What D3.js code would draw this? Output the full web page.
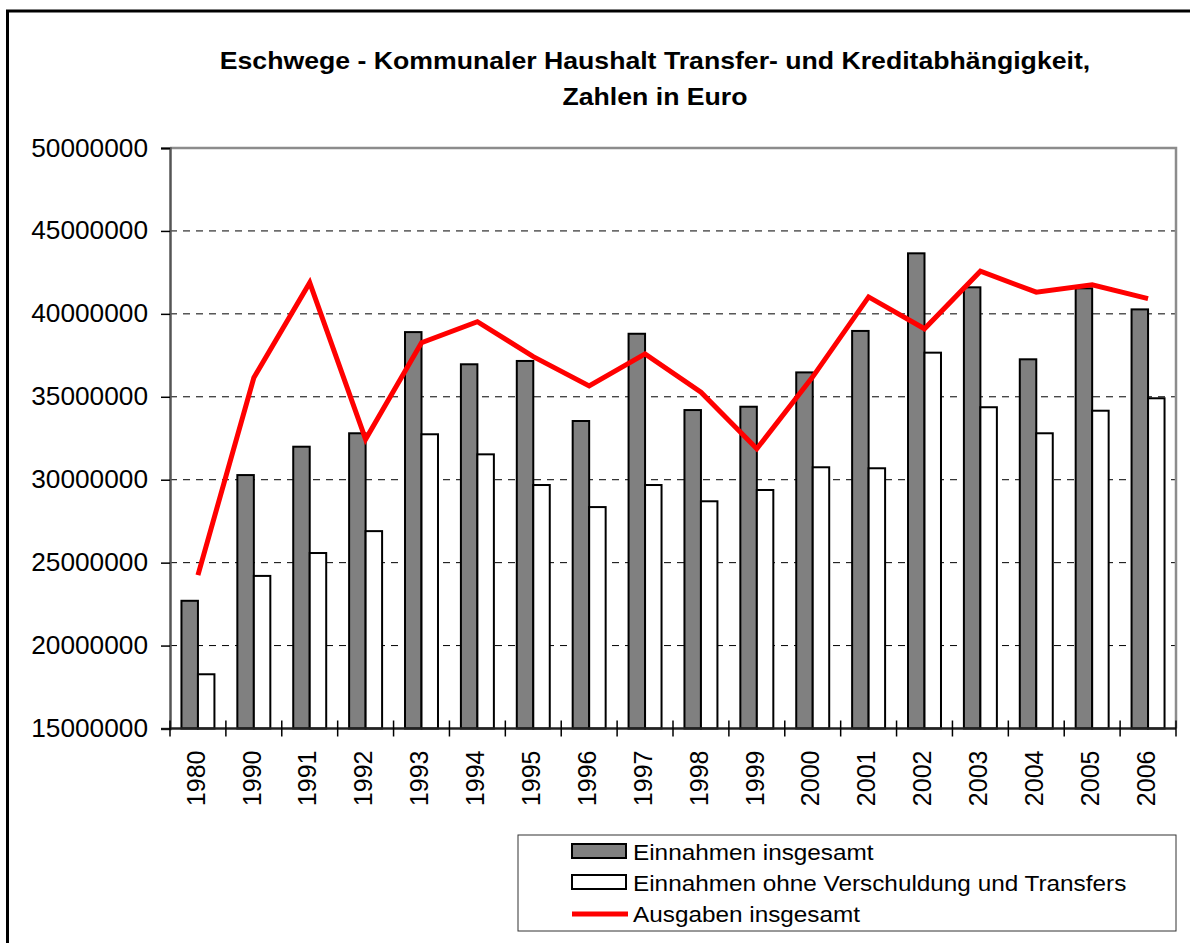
<!DOCTYPE html>
<html>
<head>
<meta charset="utf-8">
<script src="https://cdn.jsdelivr.net/npm/d3@7"></script>
<style>
  body { margin: 0; background: #fff; }
  text { font-family: Arial, "Liberation Sans", sans-serif; }
</style>
</head>
<body>
<div id="chart"></div>
<script>
// Eschwege - kommunaler Haushalt, Werte in Euro
let years = ["1980", "1990", "1991", "1992", "1993", "1994", "1995", "1996", "1997",
             "1998", "1999", "2000", "2001", "2002", "2003", "2004", "2005", "2006"];

let einnahmen = [22700000, 30280000, 31990000, 32800000, 38900000, 36960000, 37160000, 33540000, 38800000,
                 34200000, 34400000, 36470000, 38970000, 43650000, 41600000, 37260000, 41540000, 40270000];

let einnahmenOhne = [18270000, 24200000, 25580000, 26900000, 32740000, 31530000, 29680000, 28350000, 29680000,
                     28700000, 29380000, 30750000, 30690000, 37660000, 34370000, 32800000, 34160000, 34910000];

let ausgaben = [24250000, 36150000, 41880000, 32440000, 38260000, 39530000, 37420000, 35650000, 37590000,
                35280000, 31870000, 36200000, 41020000, 39100000, 42570000, 41310000, 41750000, 40920000];

let yTicks = [15000000, 20000000, 25000000, 30000000, 35000000, 40000000, 45000000, 50000000];

let seriesNames = ["Einnahmen insgesamt", "Einnahmen ohne Verschuldung und Transfers", "Ausgaben insgesamt"];

let width = 1190, height = 943;
let plot = { left: 170, top: 148, right: 1176, bottom: 728.5 };

// the original text is a little wider than plain Arial
function stretch(sel, factor) {
    sel.each(function() {
        let w = this.getComputedTextLength();
        d3.select(this)
            .attr("textLength", w * factor)
            .attr("lengthAdjust", "spacingAndGlyphs");
    });
}

let svg = d3.select("#chart").append("svg")
    .attr("width", width)
    .attr("height", height);

// outer frame
svg.append("rect")
    .attr("x", 7.5).attr("y", 11)
    .attr("width", 1300).attr("height", 1000)
    .attr("fill", "none")
    .attr("stroke", "#000")
    .attr("stroke-width", 3);

// title
let title = svg.append("g");
title.append("text")
    .attr("x", 655).attr("y", 69)
    .text("Eschwege - Kommunaler Haushalt Transfer- und Kreditabhängigkeit,");
title.append("text")
    .attr("x", 655).attr("y", 105)
    .text("Zahlen in Euro");
title.selectAll("text")
    .attr("text-anchor", "middle")
    .attr("font-weight", "bold")
    .attr("font-size", 24)
    .call(stretch, 1.11);

let x0 = d3.scaleBand()
    .domain(years)
    .range([plot.left, plot.right])
    .paddingInner(0.41)
    .paddingOuter(0.205);

let x1 = d3.scaleBand()
    .domain([0, 1])
    .range([0, x0.bandwidth()]);

let y = d3.scaleLinear()
    .domain([15000000, 50000000])
    .range([plot.bottom, plot.top]);

// gridlines
svg.append("g")
    .selectAll("line")
    .data(yTicks.slice(1, -1))
    .enter()
    .append("line")
    .attr("x1", plot.left).attr("x2", plot.right)
    .attr("y1", d => y(d)).attr("y2", d => y(d))
    .attr("stroke", "#000")
    .attr("stroke-width", 1)
    .attr("stroke-dasharray", "7,6");

// plot border (top and right)
svg.append("path")
    .attr("d", `M${plot.left},${plot.top}H${plot.right}V${plot.bottom}`)
    .attr("fill", "none")
    .attr("stroke", "#8c8c8c")
    .attr("stroke-width", 2.5);

// bars
let groups = svg.append("g")
    .selectAll("g")
    .data(years.map((yr, i) => ({ year: yr, vals: [einnahmen[i], einnahmenOhne[i]] })))
    .enter()
    .append("g")
    .attr("transform", d => `translate(${x0(d.year)},0)`);

groups.selectAll("rect")
    .data(d => d.vals)
    .enter()
    .append("rect")
    .attr("x", (d, i) => x1(i))
    .attr("width", x1.bandwidth())
    .attr("y", d => y(d))
    .attr("height", d => y(15000000) - y(d))
    .attr("fill", (d, i) => i === 0 ? "#808080" : "#fff")
    .attr("stroke", "#000")
    .attr("stroke-width", 2);

// y axis
let yAxis = svg.append("g")
    .attr("transform", `translate(${plot.left},0)`)
    .call(d3.axisLeft(y).tickValues(yTicks).tickSize(9).tickPadding(13).tickFormat(d3.format("d")));
yAxis.select(".domain").attr("stroke", "#555").attr("stroke-width", 2.5);
yAxis.selectAll(".tick line").attr("stroke", "#000").attr("stroke-width", 1.5);
yAxis.selectAll("text")
    .attr("font-size", 25)
    .attr("font-family", "Arial, 'Liberation Sans', sans-serif")
    .attr("fill", "#000")
    .call(stretch, 1.05);

// x axis, ticks at category boundaries
let xAxis = svg.append("g")
    .attr("transform", `translate(0,${plot.bottom})`);
xAxis.append("line")
    .attr("x1", plot.left).attr("x2", plot.right)
    .attr("stroke", "#222").attr("stroke-width", 2.5);
xAxis.selectAll(".bt")
    .data(years.concat(["end"]))
    .enter()
    .append("line")
    .attr("class", "bt")
    .attr("x1", (d, i) => plot.left + i * x0.step())
    .attr("x2", (d, i) => plot.left + i * x0.step())
    .attr("y1", -8).attr("y2", 8)
    .attr("stroke", "#000").attr("stroke-width", 1.5);
xAxis.selectAll(".lbl")
    .data(years)
    .enter()
    .append("text")
    .attr("class", "lbl")
    .attr("transform", d => `translate(${x0(d) + x0.bandwidth() / 2 - 2},22) rotate(-90)`)
    .attr("text-anchor", "end")
    .attr("dy", "0.35em")
    .attr("font-size", 25)
    .text(d => d);

// red line
let line = d3.line()
    .x((d, i) => x0(years[i]) + x0.bandwidth() / 2)
    .y(d => y(d));

svg.append("path")
    .datum(ausgaben)
    .attr("d", line)
    .attr("fill", "none")
    .attr("stroke", "#ff0000")
    .attr("stroke-width", 5);

// legend
let legend = svg.append("g").attr("transform", "translate(518,835)");
legend.append("rect")
    .attr("width", 658).attr("height", 96)
    .attr("fill", "#fff")
    .attr("stroke", "#333")
    .attr("stroke-width", 1);

let rows = legend.selectAll(".row")
    .data(seriesNames)
    .enter()
    .append("g")
    .attr("class", "row")
    .attr("transform", (d, i) => `translate(0,${17 + i * 31})`);

rows.filter((d, i) => i < 2)
    .append("rect")
    .attr("x", 54).attr("y", -8)
    .attr("width", 54).attr("height", 14)
    .attr("fill", (d, i) => i === 0 ? "#808080" : "#fff")
    .attr("stroke", "#000")
    .attr("stroke-width", 2);

rows.filter((d, i) => i === 2)
    .append("line")
    .attr("x1", 54).attr("x2", 110)
    .attr("stroke", "#ff0000")
    .attr("stroke-width", 5);

rows.append("text")
    .attr("x", 115)
    .attr("dy", "0.35em")
    .attr("font-size", 22)
    .text(d => d)
    .call(stretch, 1.105);
</script>
</body>
</html>
